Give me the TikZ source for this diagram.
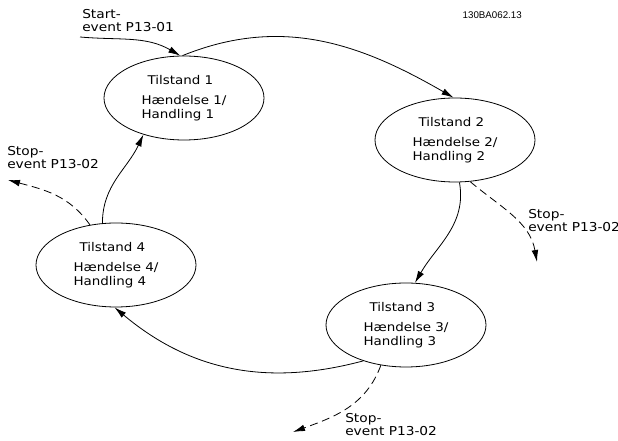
\documentclass[tikz,border=0pt]{standalone}
\usepackage{fontspec}
\setmainfont{DejaVu Sans}[FakeStretch=1.12]
\newfontfamily\codefont{Liberation Sans}
\usepackage{tikz}
\usetikzlibrary{arrows.meta,shapes.geometric,positioning,calc}

\begin{document}
\begin{tikzpicture}[x=0.75pt,y=-0.75pt,
  tilstand/.style={ellipse,draw,line width=0.6pt,minimum width=120pt,minimum height=63pt,inner sep=0pt,align=left,font=\fontsize{9}{10.2}\selectfont},
  lbl/.style={anchor=north west,inner sep=0pt,align=left,font=\fontsize{9.2}{10.2}\selectfont},
  pil/.style={line width=0.6pt,-{Latex[length=9pt,width=5pt]}},
  stiplet/.style={pil,dash pattern=on 6pt off 3.5pt}]
\useasboundingbox (0,0) rectangle (618,441);
\node[tilstand] (s1) at (184,98) {\hspace*{4.5pt}Tilstand 1\\[5pt]Hændelse 1/\\Handling 1};
\node[tilstand] (s2) at (455,140) {\hspace*{4.5pt}Tilstand 2\\[5pt]Hændelse 2/\\Handling 2};
\node[tilstand] (s3) at (406,325) {\hspace*{4.5pt}Tilstand 3\\[5pt]Hændelse 3/\\Handling 3};
\node[tilstand] (s4) at (116,265) {\hspace*{4.5pt}Tilstand 4\\[5pt]Hændelse 4/\\Handling 4};
\coordinate (start) at (80,37);
\coordinate (stop1) at (8,180);
\coordinate (stop2) at (537,262);
\coordinate (stop3) at (293,432);
\node[lbl] (startlbl) at (82,9) {Start-\\event P13-01};
\node[lbl] (stoplbl4) at (7,146) {Stop-\\event P13-02};
\node[lbl] (stoplbl2) at (528,209) {Stop-\\event P13-02};
\node[lbl] (stoplbl3) at (345,413) {Stop-\\event P13-02};
\node[anchor=north east,inner sep=0pt,font=\codefont\fontsize{7.3}{8}\selectfont] (kode) at (522,11) {130BA062.13};
% forloeb
\draw[pil] (start) to[out=-5,in=150] (s1.95);
\draw[pil] (s1.92) to[out=22,in=150] (s2.92);
\draw[pil] (s2.-84) to[out=-80,in=60] (s3.78);
\draw[pil] (s3.-140) to[out=195,in=-40] (s4.-92);
\draw[pil] (s4.108) to[out=90,in=-115] (s1.-138);
% stop
\draw[stiplet] (s2.-70) to[out=-40,in=100] (stop2);
\draw[stiplet] (s3.-122) to[out=-110,in=20] (stop3);
\draw[stiplet] (s4.123) to[out=125,in=-15] (stop1);
\end{tikzpicture}
\end{document}
